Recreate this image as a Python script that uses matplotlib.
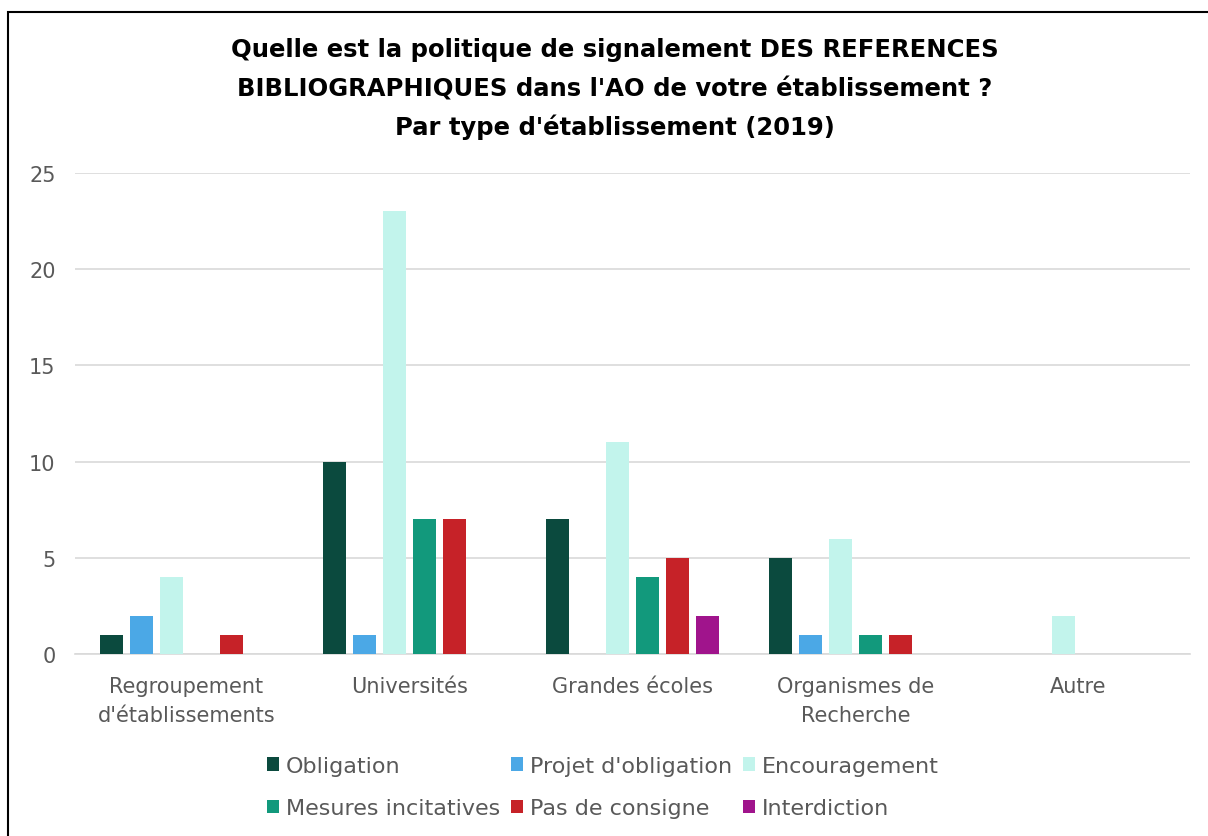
import numpy as np
import matplotlib
matplotlib.use("Agg")
import matplotlib.pyplot as plt
from matplotlib.patches import Rectangle

categories = ["Regroupement\nd'établissements", "Universités", "Grandes écoles",
              "Organismes de\nRecherche", "Autre"]
series = ["Obligation", "Projet d'obligation", "Encouragement",
          "Mesures incitatives", "Pas de consigne", "Interdiction"]
obligation = [1, 10, 7, 5, 0]
projet = [2, 1, 0, 1, 0]
encouragement = [4, 23, 11, 6, 2]
mesures = [0, 7, 4, 1, 0]
pas_consigne = [1, 7, 5, 1, 0]
interdiction = [0, 0, 2, 0, 0]
colors = ["#0B4A3E", "#4BA8E6", "#C2F4EC", "#12997C", "#C62228", "#A0148C"]

plt.rcParams['font.family'] = ['DejaVu Sans']
fig = plt.figure(figsize=(12.08, 8.37), dpi=100)
ax = fig.add_axes([75/1208, 1-655/837, (1190-75)/1208, (655-174)/837])

x = np.arange(len(categories))
step = 30/223
width = 23/223
values = [obligation, projet, encouragement, mesures, pas_consigne, interdiction]
bars = []
for i, (name, vals, c) in enumerate(zip(series, values, colors)):
    bars.append(ax.bar(x + (i - 2.5)*step, vals, width, color=c, label=name, zorder=3))

ax.set_xlim(-0.5, len(categories) - 0.5)
ax.set_ylim(0, 25)
ax.set_yticks(range(0, 26, 5))
ax.grid(axis='y', color='#D9D9D9', linewidth=1.2, zorder=0)
for s in ['top', 'right', 'left']:
    ax.spines[s].set_visible(False)
ax.spines['bottom'].set_color('#D9D9D9')
ax.spines['bottom'].set_linewidth(1.2)
ax.tick_params(length=0, labelsize=15, colors='#595959')
ax.tick_params(axis='x', pad=16)
ax.tick_params(axis='y', pad=14)
ax.set_xticks(x)
ax.set_xticklabels(categories, linespacing=1.55)

title = ["Quelle est la politique de signalement DES REFERENCES",
         "BIBLIOGRAPHIQUES dans l'AO de votre établissement ?",
         "Par type d'établissement (2019)"]
for line, ypix in zip(title, [50, 89, 127]):
    fig.text(0.509, 1-ypix/837, line, ha='center', va='center',
             fontsize=17.5, fontweight='bold')

# row-wise legend order for 3 columns
order = [0, 3, 1, 4, 2, 5]
fig.legend([bars[i] for i in order], [series[i] for i in order],
           loc='center', bbox_to_anchor=(0.499, 1-788/837), ncol=3, frameon=False,
           fontsize=16, labelcolor='#595959', handlelength=0.55, handleheight=0.55,
           handletextpad=0.3, columnspacing=0.5, labelspacing=1.0)

fig.patches.append(Rectangle((8/1208, -0.1), 1.2, 1-13/837+0.1, transform=fig.transFigure,
                             fill=False, edgecolor='black', linewidth=1.5))

fig.savefig("out.png", dpi=100)
